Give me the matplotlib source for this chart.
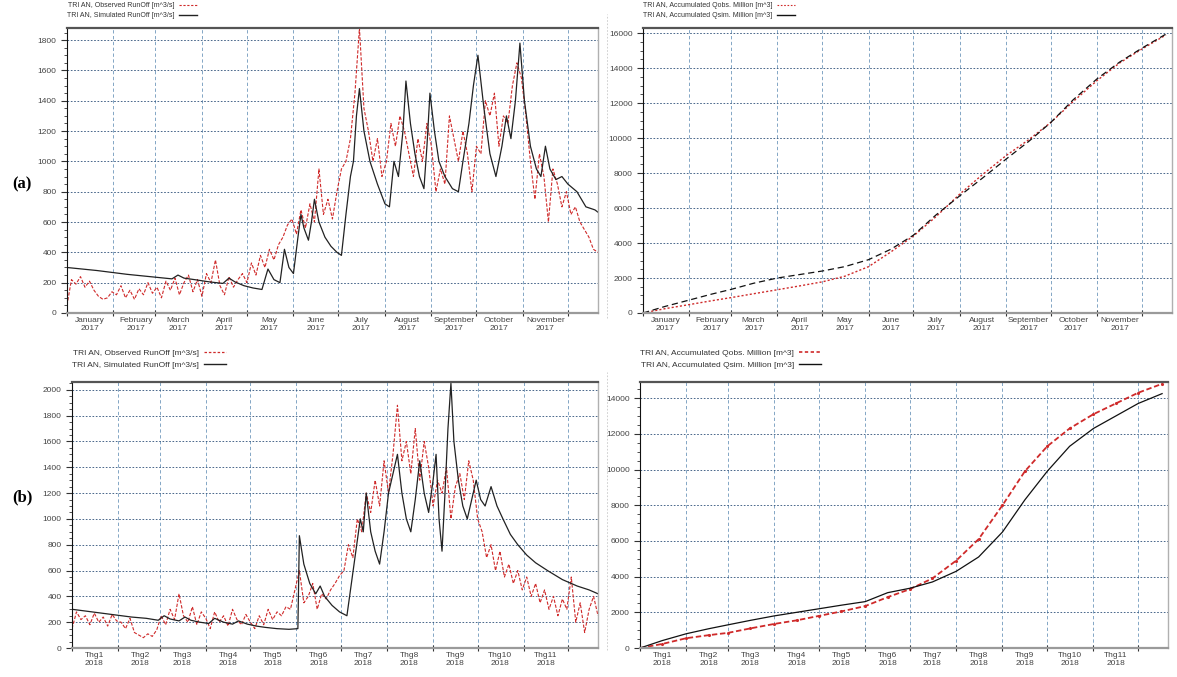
import pandas as pd
import matplotlib
matplotlib.use('Agg')
import matplotlib.pyplot as plt
import matplotlib.dates as mdates
from matplotlib.lines import Line2D
from matplotlib.ticker import MultipleLocator, FuncFormatter, NullFormatter

plt.rcParams['font.family'] = ['Liberation Sans', 'DejaVu Sans']

# --- 2017: daily runoff at Tri An (observed read every 3rd day) ---
obs_2017 = [50, 220, 190, 240, 170, 210, 150, 110, 90, 100, 140,
            120, 180, 100, 150, 90, 160, 120, 200, 130,
            170, 100, 210, 150, 230, 120, 200, 250, 140, 220,
            110, 260, 200, 350, 180, 120, 240, 170, 220, 260,
            200, 330, 250, 380, 300, 420, 350, 450, 500, 580,
            620, 520, 680, 560, 720, 600, 950, 650, 750, 620, 800,
            950, 1000, 1150, 1450, 1880, 1350, 1200, 1000, 1150, 900,
            1000, 1250, 1100, 1300, 1200, 1050, 900, 1150, 1000, 1250,
            1100, 800, 950, 850, 1300, 1150, 1000, 1200, 1050, 800,
            1100, 1050, 1400, 1300, 1450, 1100, 1300, 1250, 1500, 1650, 1550,
            1300, 1000, 750, 1050, 900, 600, 950, 850, 700, 800,
            650, 700, 600, 550, 500, 420, 400]

sim_2017_day = [0, 20, 40, 60, 70, 74, 78, 85, 95, 104, 108, 112, 118, 124, 130,
                134, 138, 142, 145, 148, 151, 154, 156, 158, 161, 163, 165, 168,
                172, 176, 180, 183, 186, 189, 191, 193, 195, 198, 202, 207, 212,
                215, 218, 221, 224, 226, 229, 232, 235, 238, 240, 242, 245, 248,
                252, 257, 261, 264, 268, 271, 274, 278, 282, 286, 290, 293, 296,
                299, 302, 305, 309, 313, 316, 319, 322, 326, 330, 334, 340, 346,
                352, 356]
sim_2017 = [300, 280, 255, 235, 225, 250, 230, 220, 205, 195, 230, 205, 180, 165, 155,
            290, 220, 200, 420, 300, 260, 500, 650, 560, 480, 600, 750, 600,
            500, 440, 400, 380, 650, 900, 1000, 1300, 1480, 1200, 1000, 850, 720,
            700, 1000, 900, 1200, 1530, 1250, 1050, 900, 820, 1100, 1450, 1200, 1000,
            900, 820, 800, 1000, 1250, 1500, 1700, 1350, 1050, 900, 1100, 1300, 1150,
            1400, 1780, 1400, 1100, 950, 900, 1100, 950, 880, 900, 850, 800, 700,
            680, 650]

# --- 2017: accumulated volume, million m3 ---
acc_day = [0, 15, 31, 46, 59, 74, 90, 105, 120, 135, 151, 166,
           181, 196, 212, 227, 243, 258, 273, 288, 304, 319, 334, 350]
acc_obs_2017 = [0, 250, 480, 700, 880, 1100, 1330, 1550, 1780, 2100, 2650, 3500,
                4400, 5500, 6800, 7900, 9000, 9900, 10900, 12100, 13300, 14300, 15100, 15900]
acc_sim_2017 = [0, 380, 740, 1080, 1350, 1700, 2000, 2200, 2400, 2650, 3050, 3650,
                4450, 5600, 6700, 7700, 8800, 9800, 10900, 12200, 13400, 14350, 15150, 15950]

# --- 2018: daily runoff ---
obs_2018 = [150, 280, 220, 250, 180, 270, 200, 240, 170, 260, 210,
            200, 150, 230, 120, 100, 80, 110, 90, 140,
            250, 180, 300, 220, 420, 250, 200, 320, 180, 280,
            230, 150, 280, 200, 250, 170, 300, 220, 180, 260,
            200, 150, 250, 180, 300, 220, 280, 250, 320, 300,
            450, 600, 350, 400, 500, 300, 420, 380, 450, 500, 560,
            600, 800, 700, 1000, 900, 1200, 1050, 1300, 1100, 1450,
            1200, 1500, 1880, 1450, 1600, 1350, 1700, 1300, 1600, 1400,
            1100, 1300, 1200, 1400, 1000, 1250, 1350, 1150, 1450, 1300,
            1000, 900, 700, 800, 600, 750, 550, 650, 500, 600, 450,
            550, 400, 500, 350, 450, 300, 400, 250, 380, 300,
            550, 200, 350, 120, 300, 400, 250]

sim_2018_day = [0, 10, 20, 30, 40, 50, 58, 62, 66, 72, 76, 80, 86, 92, 96, 102, 108,
                112, 118, 124, 130, 138, 146, 152, 153, 156, 160, 164, 167, 170, 175,
                180, 185, 188, 191, 194, 196, 198, 201, 204, 207, 210, 213, 216, 219,
                222, 225, 228, 231, 234, 237, 240, 243, 245, 247, 249, 251, 253, 255,
                257, 260, 263, 266, 269, 272, 275, 278, 282, 286, 290, 295, 300, 306,
                312, 320, 330, 340, 348, 354]
sim_2018 = [300, 285, 270, 255, 240, 230, 215, 250, 225, 210, 240, 215, 200, 190, 230, 200, 185,
            210, 185, 170, 160, 150, 145, 150, 870, 650, 500, 420, 480, 400, 330,
            280, 250, 500, 750, 1000, 900, 1200, 900, 750, 650, 900, 1200, 1350, 1500,
            1200, 1000, 900, 1150, 1450, 1200, 1050, 1300, 1500, 1000, 750, 1200, 1700, 2050,
            1600, 1300, 1100, 1000, 1150, 1300, 1150, 1100, 1250, 1100, 1000, 880, 800, 720,
            660, 600, 530, 480, 450, 420]

# --- 2018: accumulated volume, million m3 ---
acc_obs_2018 = [0, 230, 550, 720, 850, 1100, 1350, 1550, 1800, 2050, 2350, 2850,
                3300, 3900, 4900, 6100, 8000, 9900, 11300, 12300, 13100, 13700, 14300, 14800]
acc_sim_2018 = [0, 420, 800, 1080, 1300, 1550, 1800, 2000, 2200, 2400, 2600, 3100,
                3350, 3700, 4300, 5100, 6500, 8300, 9900, 11300, 12300, 13000, 13700, 14250]

RED = '#cf2a2a'


def to_dates(year, days):
    return pd.Timestamp(f'{year}-01-01') + pd.to_timedelta(days, unit='D')


def every3(year, n):
    return pd.date_range(f'{year}-01-01', periods=n, freq='3D')


def style_axis(ax, year, ymax, ymaj, ymin, month_fmt):
    ax.set_xlim(pd.Timestamp(f'{year}-01-01'), pd.Timestamp(f'{year}-12-21'))
    ax.set_ylim(0, ymax)
    ax.xaxis.set_major_locator(mdates.MonthLocator())
    ax.xaxis.set_major_formatter(NullFormatter())
    ax.xaxis.set_minor_locator(mdates.MonthLocator(bymonth=range(1, 12), bymonthday=16))
    ax.xaxis.set_minor_formatter(FuncFormatter(month_fmt))
    ax.yaxis.set_major_locator(MultipleLocator(ymaj))
    ax.yaxis.set_minor_locator(MultipleLocator(ymin))
    ax.tick_params(axis='x', which='major', length=5, direction='inout', color='#333333')
    ax.tick_params(axis='x', which='minor', length=0, labelsize=6, labelcolor='#444444', pad=3)
    ax.tick_params(axis='y', which='major', length=4, labelsize=6, labelcolor='#444444', color='#333333')
    ax.tick_params(axis='y', which='minor', length=2, color='#333333')
    ax.yaxis.grid(True, which='major', color='#2c4f78', ls=(0, (2, 2)), lw=0.6)
    ax.xaxis.grid(True, which='major', color='#6f98bb', ls=(0, (4, 3)), lw=0.6)
    ax.spines['top'].set(lw=1.6, color='#555555')
    ax.spines['bottom'].set(lw=1.6, color='#9a9a9a')
    ax.spines['right'].set(lw=1.0, color='#b0b0b0')
    ax.spines['left'].set(lw=0.8, color='#111111')


def fmt_en(x, pos):
    d = mdates.num2date(x)
    return d.strftime('%B') + '\n' + str(d.year)


def fmt_vn(x, pos):
    d = mdates.num2date(x)
    return f'Thg{d.month}\n{d.year}'


def add_legend(ax, labels, handles, size, gap):
    ax.legend(handles, labels, loc='lower left', bbox_to_anchor=(0, gap),
              frameon=False, markerfirst=False, fontsize=size, handlelength=2.6,
              handletextpad=0.6, labelspacing=0.45, borderaxespad=0, borderpad=0)
    for t in ax.get_legend().get_texts():
        t.set_color('#333333')


fig = plt.figure(figsize=(11.77, 6.77), dpi=100)

ax1 = fig.add_axes([0.0569, 0.5377, 0.4511, 0.4210])
ax2 = fig.add_axes([0.5463, 0.5377, 0.4494, 0.4210])
ax3 = fig.add_axes([0.0612, 0.0428, 0.4469, 0.3929])
ax4 = fig.add_axes([0.5438, 0.0428, 0.4486, 0.3929])

# (a) 2017 runoff
ax1.plot(every3(2017, len(obs_2017)), obs_2017, color=RED, ls=(0, (3, 1.5)), lw=0.8)
ax1.plot(to_dates(2017, sim_2017_day), sim_2017, color='#222222', lw=0.9)
style_axis(ax1, 2017, 1880, 200, 50, fmt_en)
add_legend(ax1, ['TRI AN, Observed RunOff [m^3/s]', 'TRI AN, Simulated RunOff [m^3/s]'],
           [Line2D([], [], color=RED, ls=(0, (2, 1.5)), lw=0.8),
            Line2D([], [], color='#222222', lw=1.0)], 5, 1.03)

# (a) 2017 accumulated
ax2.plot(to_dates(2017, acc_day), acc_obs_2017, color=RED, ls=(0, (1.5, 1.5)), lw=1.0)
ax2.plot(to_dates(2017, acc_day), acc_sim_2017, color='#111111', ls=(0, (5, 3)), lw=0.9)
style_axis(ax2, 2017, 16300, 2000, 500, fmt_en)
add_legend(ax2, ['TRI AN, Accumulated Qobs. Million [m^3]', 'TRI AN, Accumulated Qsim. Million [m^3]'],
           [Line2D([], [], color=RED, ls=(0, (1.5, 1.5)), lw=0.8),
            Line2D([], [], color='#111111', lw=1.0)], 5, 1.03)

# (b) 2018 runoff
ax3.plot(every3(2018, len(obs_2018)), obs_2018, color=RED, ls=(0, (3, 1.5)), lw=0.8)
ax3.plot(to_dates(2018, sim_2018_day), sim_2018, color='#222222', lw=0.9)
style_axis(ax3, 2018, 2060, 200, 50, fmt_vn)
add_legend(ax3, ['TRI AN, Observed RunOff [m^3/s]', 'TRI AN, Simulated RunOff [m^3/s]'],
           [Line2D([], [], color=RED, ls=(0, (2, 1.5)), lw=0.9),
            Line2D([], [], color='#222222', lw=1.0)], 6, 1.05)

# (b) 2018 accumulated
ax4.plot(to_dates(2018, acc_day), acc_obs_2018, color=RED, ls=(0, (3, 1.5)), lw=1.3,
         marker='.', ms=2.5)
ax4.plot(to_dates(2018, acc_day), acc_sim_2018, color='#111111', lw=0.9)
style_axis(ax4, 2018, 14900, 2000, 500, fmt_vn)
add_legend(ax4, ['TRI AN, Accumulated Qobs. Million [m^3]', 'TRI AN, Accumulated Qsim. Million [m^3]'],
           [Line2D([], [], color=RED, ls=(0, (2, 1.5)), lw=1.2),
            Line2D([], [], color='#111111', lw=1.0)], 6, 1.05)

# faint separator lines between the columns
for y0, y1 in [(0.53, 0.98), (0.04, 0.45)]:
    fig.add_artist(Line2D([0.516, 0.516], [y0, y1], color='#c8c8c8', lw=0.6, ls=(0, (2, 2))))

fig.text(0.010, 0.728, '(a)', fontsize=12, fontweight='bold', family='Liberation Serif', va='center')
fig.text(0.010, 0.266, '(b)', fontsize=12, fontweight='bold', family='Liberation Serif', va='center')

fig.savefig('out.png', dpi=100)
